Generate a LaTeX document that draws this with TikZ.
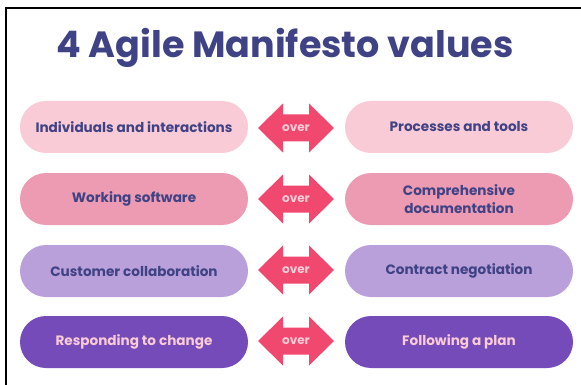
\documentclass[tikz,border=0pt]{standalone}
\usepackage{fontspec}
\setmainfont{Poppins}
\begin{document}
\begin{tikzpicture}[x=1pt,y=-1pt,
  pill/.style={rounded corners=26pt, minimum width=228pt, minimum height=52pt,
    inner sep=0pt, align=center, font=\bfseries\fontsize{13.6}{18}\selectfont},
  valA/.style={pill, fill=pinkA, text=navy},
  valB/.style={pill, fill=pinkB, text=navy},
  valC/.style={pill, fill=lilac, text=navy},
  valD/.style={pill, fill=violet, text=pinkA},
  overlabel/.style={text=pinkA, font=\bfseries\fontsize{12}{14}\selectfont, inner sep=0pt},
  arrowfill/.style={fill=rose}]
\definecolor{navy}{RGB}{63,66,132}
\definecolor{pinkA}{RGB}{249,203,214}
\definecolor{pinkB}{RGB}{236,155,178}
\definecolor{lilac}{RGB}{185,160,218}
\definecolor{violet}{RGB}{117,74,185}
\definecolor{rose}{RGB}{240,72,110}

\useasboundingbox (0,0) rectangle (581,385);
\fill[white] (0,0) rectangle (581,385);

% frame: top and left edges only
\draw[line width=2.5pt] (6,385) -- (6,8) -- (581,8);

% heading
\node[text=navy, font=\bfseries\fontsize{36.5}{42}\selectfont, inner sep=0pt] (title) at (285,48) {4 Agile Manifesto values};

% double-headed "over" arrow centred at (#1,#2)
\newcommand{\overarrow}[3]{%
  \fill[arrowfill] (#1-38,#2) -- (#1-13,#2-24.5) -- (#1-13,#2-13.5) -- (#1+13,#2-13.5)
    -- (#1+13,#2-24.5) -- (#1+38,#2) -- (#1+13,#2+24.5) -- (#1+13,#2+13.5)
    -- (#1-13,#2+13.5) -- (#1-13,#2+24.5) -- cycle;
  \node[overlabel] (#3) at (#1,#2) {over};}

% row 1
\node[valA] (l1) at (134,127) {Individuals and interactions};
\node[valA] (r1) at (459,127) {Processes and tools};
\overarrow{296}{128}{o1}
% row 2
\node[valB] (l2) at (134,199) {Working software};
\node[valB] (r2) at (459,199) {Comprehensive\\documentation};
\overarrow{296}{199}{o2}
% row 3
\node[valC] (l3) at (134,271) {Customer collaboration};
\node[valC] (r3) at (459,271) {Contract negotiation};
\overarrow{296}{270}{o3}
% row 4
\node[valD] (l4) at (134,342) {Responding to change};
\node[valD] (r4) at (459,342) {Following a plan};
\overarrow{296}{341}{o4}
\end{tikzpicture}
\end{document}
